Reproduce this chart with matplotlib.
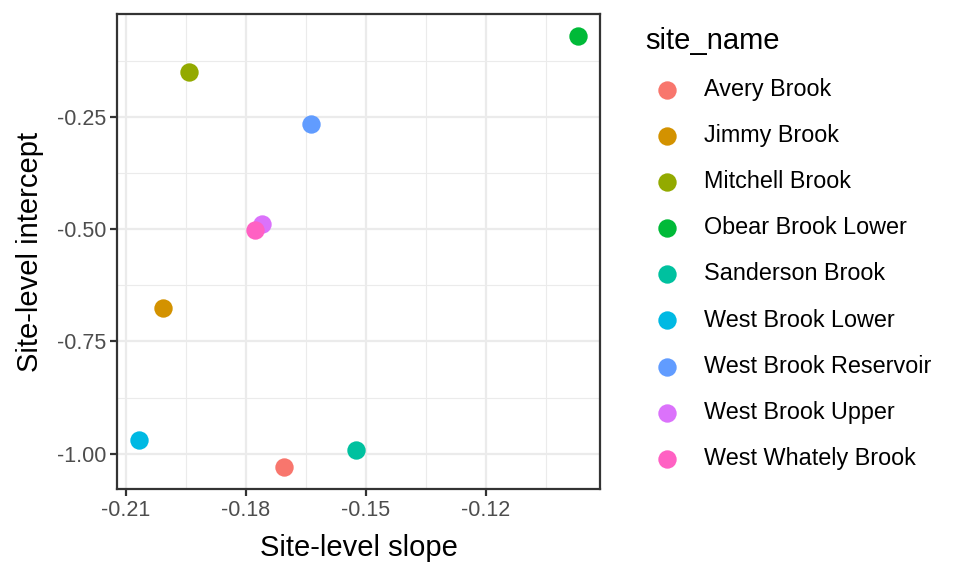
#!/usr/bin/env python3
"""
Site-level slope vs intercept scatter, one colour per site (ggplot theme_bw look).

Output: out.png
"""

import matplotlib.pyplot as plt
from matplotlib.ticker import MultipleLocator
import numpy as np

plt.rcParams['font.family'] = ['Liberation Sans', 'DejaVu Sans']

# --- Data ---
site_names = [
    'Avery Brook', 'Jimmy Brook', 'Mitchell Brook', 'Obear Brook Lower',
    'Sanderson Brook', 'West Brook Lower', 'West Brook Reservoir',
    'West Brook Upper', 'West Whately Brook',
]
slopes = [-0.1705, -0.2006, -0.1941, -0.0969, -0.1525,
          -0.2067, -0.1638, -0.1759, -0.1776]
intercepts = [-1.0305, -0.6765, -0.1500, -0.0690, -0.9925,
              -0.9705, -0.2660, -0.4892, -0.5010]

# ggplot2 default hue palette for 9 levels
site_colours = ['#F8766D', '#D39200', '#93AA00', '#00BA38', '#00C19F',
                '#00B9E3', '#619CFF', '#DB72FB', '#FF61C3']

x_ticks = [-0.21, -0.18, -0.15, -0.12]
y_ticks = [-1.00, -0.75, -0.50, -0.25]

# --- Figure ---
fig = plt.figure(figsize=(9.6, 5.76), dpi=100)
fig.patch.set_facecolor('white')
ax = fig.add_axes([117 / 960, 1 - 489 / 576, 483 / 960, 475 / 576])

GRID_MAJOR = '#EBEBEB'
DARK = '#333333'
TICK_TXT = '#4D4D4D'

for name, x, y, col in zip(site_names, slopes, intercepts, site_colours):
    ax.scatter([x], [y], s=175, color=col, label=name, linewidths=0, zorder=3)

# 5% expansion like ggplot
xs = np.array(slopes)
ys = np.array(intercepts)
xr = xs.max() - xs.min()
yr = ys.max() - ys.min()
ax.set_xlim(xs.min() - 0.05 * xr, xs.max() + 0.05 * xr)
ax.set_ylim(ys.min() - 0.05 * yr, ys.max() + 0.05 * yr)

ax.set_xticks(x_ticks)
ax.set_xticklabels([f'{t:.2f}' for t in x_ticks])
ax.set_yticks(y_ticks)
ax.set_yticklabels([f'{t:.2f}' for t in y_ticks])
ax.xaxis.set_minor_locator(MultipleLocator(0.015))
ax.yaxis.set_minor_locator(MultipleLocator(0.125))

ax.grid(which='major', color=GRID_MAJOR, linewidth=1.6, zorder=0)
ax.grid(which='minor', color=GRID_MAJOR, linewidth=0.8, zorder=0)
ax.set_axisbelow(True)

for sp in ax.spines.values():
    sp.set_color(DARK)
    sp.set_linewidth(1.6)

ax.tick_params(which='major', length=5, width=1.6, color=DARK,
               labelsize=15.5, labelcolor=TICK_TXT, pad=3)
ax.tick_params(which='minor', length=0)

ax.set_xlabel('Site-level slope', fontsize=21, color='black', labelpad=9)
ax.set_ylabel('Site-level intercept', fontsize=21, color='black', labelpad=9)

leg = fig.legend(loc='upper left', bbox_to_anchor=(645 / 960, 1 - 27 / 576),
                 frameon=False, borderpad=0, borderaxespad=0,
                 title='site_name', title_fontsize=21, fontsize=16.8,
                 alignment='left', handlelength=1.85, handletextpad=0.7,
                 labelspacing=0.99, scatterpoints=1)

plt.savefig('out.png', dpi=100, facecolor='white')
plt.close()
print('Saved out.png')
